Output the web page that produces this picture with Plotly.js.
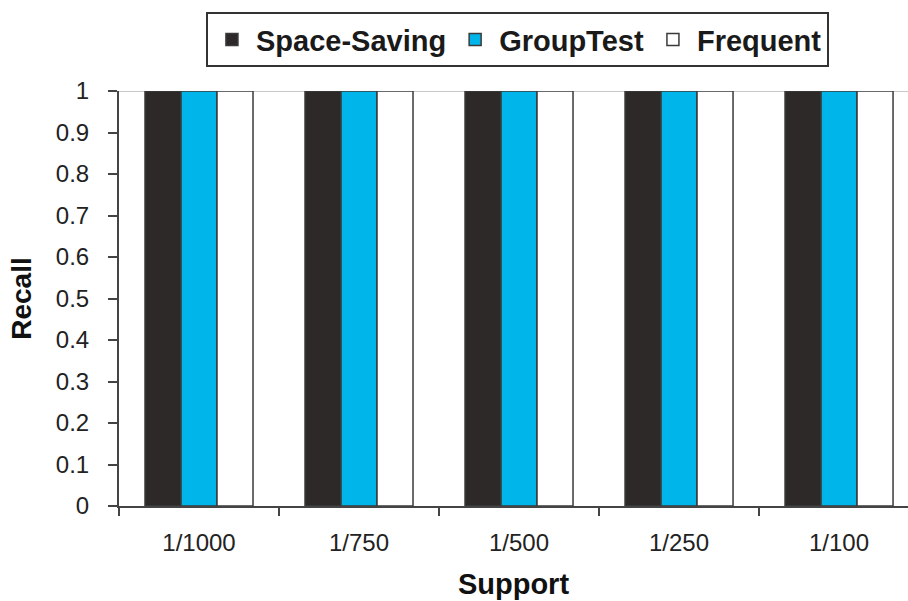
<!DOCTYPE html>
<html>
<head>
<meta charset="utf-8">
<script src="https://cdn.plot.ly/plotly-3.0.1.min.js"></script>
<style>html,body{margin:0;padding:0;background:#fff;}#chart{width:908px;height:601px;}</style>
</head>
<body>
<div id="chart"></div>
<script>
const categories = ["1/1000", "1/750", "1/500", "1/250", "1/100"];
const spaceSaving = [1, 1, 1, 1, 1];
const groupTest = [1, 1, 1, 1, 1];
const frequent = [1, 1, 1, 1, 1];
const seriesNames = ["Space-Saving", "GroupTest", "Frequent"];
const seriesColors = ["#2e2929", "#00b5ea", "#ffffff"];
const yTicks = [0, 0.1, 0.2, 0.3, 0.4, 0.5, 0.6, 0.7, 0.8, 0.9, 1];
const yTickText = ["0", "0.1", "0.2", "0.3", "0.4", "0.5", "0.6", "0.7", "0.8", "0.9", "1"];

const allValues = [spaceSaving, groupTest, frequent];
const traces = allValues.map((vals, i) => ({
  type: "bar",
  x: categories,
  y: vals,
  name: seriesNames[i],
  marker: { color: seriesColors[i], line: { color: "#3a3a3a", width: 1.5 } },
  hoverinfo: "x+y+name"
}));

const font = "Liberation Sans, Arial, sans-serif";
const layout = {
  width: 908, height: 601,
  margin: { l: 119, r: 0, t: 91, b: 95, pad: 0 },
  paper_bgcolor: "#ffffff",
  plot_bgcolor: "#ffffff",
  barmode: "group",
  bargap: 0.325,
  bargroupgap: 0,
  font: { family: font, color: "#222" },
  showlegend: true,
  legend: {
    orientation: "h",
    x: 0.505, xanchor: "center",
    y: 1.19, yanchor: "top",
    bordercolor: "#333", borderwidth: 2,
    itemwidth: 38,
    font: { family: font, size: 29, weight: 700, color: "#1a1a1a" },
    traceorder: "normal"
  },
  xaxis: {
    type: "category",
    range: [-0.5, 4.431],
    showline: true, linecolor: "#444", linewidth: 2,
    ticks: "outside", ticklen: 8, tickwidth: 2, tickcolor: "#444",
    tickson: "boundaries",
    showgrid: false, zeroline: false,
    tickfont: { family: font, size: 24, color: "#222" },
    ticklabelstandoff: 14,
    title: { text: "Support", font: { family: font, size: 29, weight: 700, color: "#111" }, standoff: 19 }
  },
  yaxis: {
    range: [0, 1],
    tickvals: yTicks, ticktext: yTickText,
    showline: true, linecolor: "#444", linewidth: 2,
    ticks: "outside", ticklen: 9, tickwidth: 2, tickcolor: "#444",
    showgrid: false, zeroline: false,
    tickfont: { family: font, size: 24, color: "#222" },
    ticklabelstandoff: 14,
    title: { text: "Recall", font: { family: font, size: 28, weight: 700, color: "#111" }, standoff: 16 }
  },
  shapes: [{
    type: "line", xref: "paper", x0: 0, x1: 1, yref: "y", y0: 1, y1: 1,
    line: { color: "#c8c8c8", width: 2 }, layer: "below"
  }]
};

Plotly.newPlot("chart", traces, layout, { displayModeBar: false, staticPlot: true });
</script>
</body>
</html>
